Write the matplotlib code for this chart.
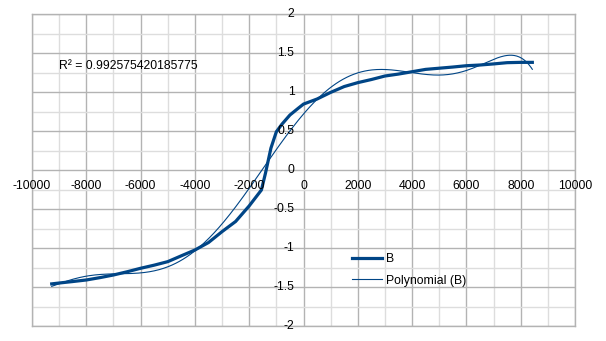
import numpy as np
import matplotlib
matplotlib.use("Agg")
import matplotlib.pyplot as plt
from matplotlib.ticker import MultipleLocator

# Data
x_vals = [-9274, -9000, -8500, -8000, -7500, -7000, -6500, -6000, -5500, -5000,
          -4500, -4000, -3500, -3000, -2500, -2000, -1550, -1400, -1200, -1000,
          -800, -500, -200, 0, 500, 1000, 1500, 2000, 2500, 3000, 3500, 4000,
          4500, 5000, 5500, 6000, 6500, 7000, 7500, 8000, 8428]
y_vals = [-1.46, -1.449, -1.43, -1.41, -1.38, -1.346, -1.305, -1.26, -1.22, -1.175,
          -1.10, -1.026, -0.93, -0.79, -0.66, -0.46, -0.256, -0.04, 0.28, 0.49,
          0.585, 0.705, 0.79, 0.845, 0.91, 0.995, 1.07, 1.12, 1.16, 1.205, 1.23, 1.26,
          1.29, 1.305, 1.32, 1.337, 1.346, 1.36, 1.376, 1.38, 1.38]
series_name = "B"
trend_name = "Polynomial (B)"
trend_degree = 7
r2_text = "R² = 0.992575420185775"
x_ticks = [-10000, -8000, -6000, -4000, -2000, 0, 2000, 4000, 6000, 8000, 10000]
y_ticks = [-2, -1.5, -1, -0.5, 0, 0.5, 1, 1.5, 2]
y_tick_labels = ["-2", "-1.5", "-1", "-0.5", "0", "0.5", "1", "1.5", "2"]

color = "#004586"
plt.rcParams['font.family'] = ['Liberation Sans', 'DejaVu Sans']
W, H = 606, 341
fig = plt.figure(figsize=(W / 100, H / 100), dpi=100)
L, R, T, B = 32, 575, 14, 326
ax = fig.add_axes([L / W, (H - B) / H, (R - L) / W, (B - T) / H])
ax.set_xlim(-10000, 10000)
ax.set_ylim(-2, 2)

ax.xaxis.set_major_locator(MultipleLocator(2000))
ax.xaxis.set_minor_locator(MultipleLocator(1000))
ax.yaxis.set_major_locator(MultipleLocator(0.5))
ax.yaxis.set_minor_locator(MultipleLocator(0.25))
ax.grid(which='minor', color='#dddddd', linewidth=1.0)
ax.grid(which='major', color='#b3b3b3', linewidth=1.0)
ax.set_axisbelow(True)
ax.tick_params(which='both', length=0, labelbottom=False, labelleft=False)
for s in ax.spines.values():
    s.set_color('#b3b3b3')
    s.set_linewidth(1.0)

xs = np.array(x_vals, dtype=float)
ys = np.array(y_vals, dtype=float)
ax.plot(xs, ys, color=color, linewidth=2.3, label=series_name, solid_joinstyle='round')

coef = np.polyfit(xs / 10000.0, ys, trend_degree)
xf = np.linspace(xs.min(), xs.max(), 400)
ax.plot(xf, np.polyval(coef, xf / 10000.0), color=color, linewidth=0.8, label=trend_name)

fs = 8.8
for xv in x_ticks:
    ax.annotate(str(xv), (xv, 0), xytext=(0, -16), textcoords='offset pixels',
                ha='center', va='center', fontsize=fs, annotation_clip=False)
for yv, lab in zip(y_ticks, y_tick_labels):
    ax.annotate(lab, (0, yv), xytext=(-9, 0), textcoords='offset pixels',
                ha='right', va='center', fontsize=fs, annotation_clip=False)

ax.text(59 / W, 1 - 66 / H, r2_text, transform=fig.transFigure, fontsize=fs,
        ha='left', va='center')

leg = fig.legend(loc='upper left', bbox_to_anchor=(352 / W, 1 - 253 / H),
                 frameon=False, fontsize=fs, handlelength=2.45, handletextpad=0.35,
                 borderpad=0, borderaxespad=0, labelspacing=0.78)

fig.savefig("out.png", dpi=100)
